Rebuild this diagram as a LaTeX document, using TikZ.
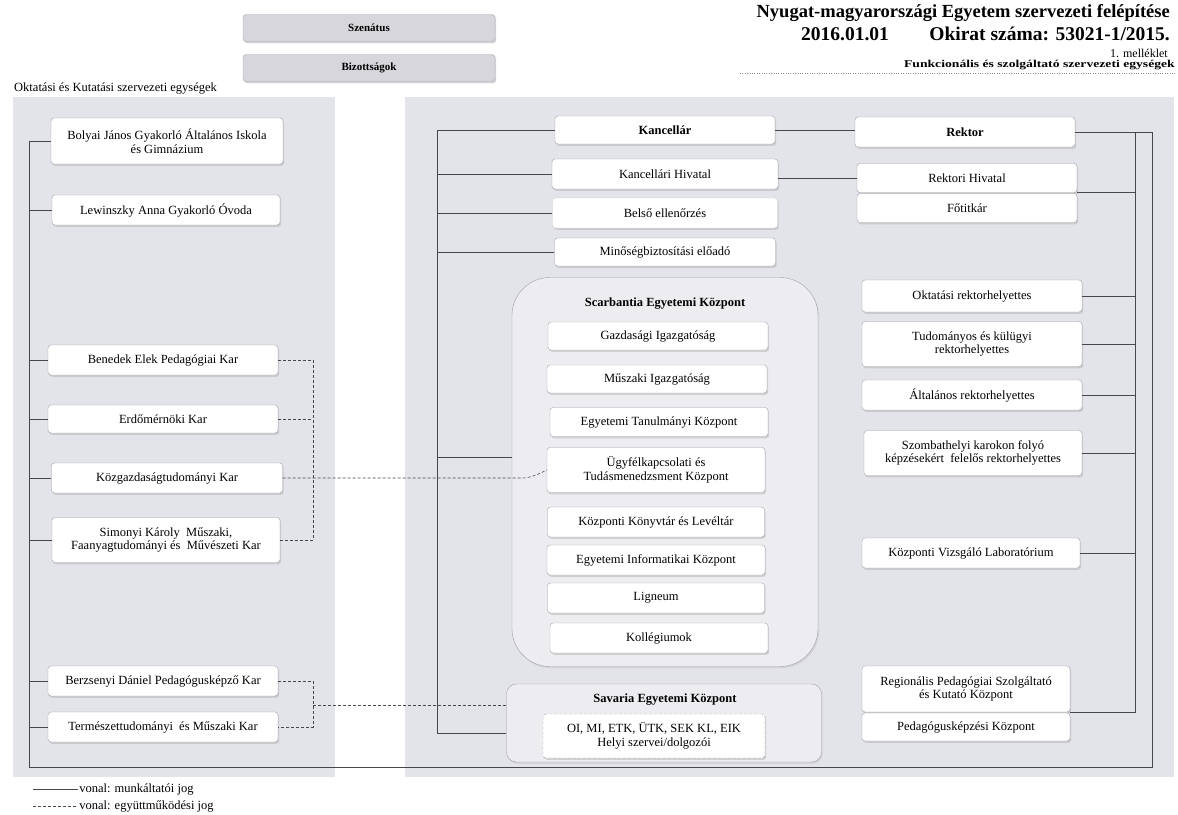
\documentclass[tikz,border=0pt]{standalone}
\usepackage{fontspec}
\setmainfont{Liberation Serif}
\newfontfamily\widefont[FakeStretch=1.3]{Liberation Serif}
\usetikzlibrary{shadows}
\definecolor{panelc}{RGB}{227,228,234}
\definecolor{groupc}{RGB}{237,237,241}
\definecolor{headc}{RGB}{214,214,220}
\definecolor{edgec}{RGB}{160,160,170}
\definecolor{linec}{RGB}{70,70,75}
\begin{document}
\begin{tikzpicture}[x=1pt,y=-1pt,
  every node/.style={inner sep=1pt},
  ubox/.style={draw=edgec, fill=white, rounded corners=3pt, align=center,
    font=\fontsize{12.5}{13.5}\selectfont,
    drop shadow={shadow xshift=1.2pt, shadow yshift=-1.8pt, fill=gray!60}},
  hbox/.style={ubox, fill=headc, font=\bfseries\fontsize{11}{12}\selectfont},
  bbox/.style={ubox, font=\bfseries\fontsize{12.5}{13.5}\selectfont},
  group/.style={draw=edgec, fill=groupc,
    drop shadow={shadow xshift=1.2pt, shadow yshift=-1.8pt, fill=gray!45}},
  gtitle/.style={font=\bfseries\fontsize{12.5}{13.5}\selectfont},
  jog/.style={draw=linec, line width=0.6pt},
  egy/.style={draw=linec, line width=0.6pt, dash pattern=on 3pt off 2pt},
]
\useasboundingbox (0,0) rectangle (1178,814);
\fill[white] (0,0) rectangle (1178,814);

% panels
\fill[panelc] (13,97) rectangle (335,777);
\fill[panelc] (405,97) rectangle (1174,777);

% header
\node[hbox, minimum width=252pt, minimum height=27pt] (szenatus) at (369,28) {Szenátus};
\node[hbox, minimum width=252pt, minimum height=27pt] (bizott) at (369,68) {Bizottságok};
\node[anchor=west, font=\fontsize{12.5}{13}\selectfont] (okttxt) at (13,89) {Oktatási és Kutatási szervezeti egységek};
\node[anchor=east, font=\bfseries\fontsize{18.5}{20}\selectfont] (title) at (1171,13) {Nyugat-magyarországi Egyetem szervezeti felépítése};
\node[font=\bfseries\fontsize{19.5}{20}\selectfont] (date) at (845,34) {2016.01.01};
\node[anchor=east, font=\bfseries\fontsize{19.5}{20}\selectfont] (okirat) at (1171,34) {Okirat száma: 53021-1/2015.};
\node[anchor=east, font=\fontsize{12}{13}\selectfont] (mell) at (1169,53) {1. melléklet};
\node[anchor=east, font=\widefont\bfseries\fontsize{10.5}{11}\selectfont] (funk) at (1176,65) {Funkcionális és szolgáltató szervezeti egységek};
\draw[linec!60, dotted] (740,73) -- (1176,73);

% left units
\node[ubox, minimum width=232pt, minimum height=46pt] (bolyai) at (167,141) {Bolyai János Gyakorló Általános Iskola\\és Gimnázium};
\node[ubox, minimum width=228pt, minimum height=30pt] (lewin) at (166,210) {Lewinszky Anna Gyakorló Óvoda};
\node[ubox, minimum width=230pt, minimum height=30pt] (benedek) at (163,360) {Benedek Elek Pedagógiai Kar};
\node[ubox, minimum width=230pt, minimum height=28pt] (erdo) at (163,419) {Erdőmérnöki Kar};
\node[ubox, minimum width=231pt, minimum height=30pt] (kozg) at (167,478) {Közgazdaságtudományi Kar};
\node[ubox, minimum width=228pt, minimum height=45pt] (simonyi) at (166,540) {Simonyi Károly \ Műszaki,\\Faanyagtudományi és \ Művészeti Kar};
\node[ubox, minimum width=230pt, minimum height=30pt] (berz) at (163,681) {Berzsenyi Dániel Pedagógusképző Kar};
\node[ubox, minimum width=230pt, minimum height=30pt] (term) at (163,727) {Természettudományi \ és Műszaki Kar};

% right panel: chancellor side
\node[bbox, minimum width=220pt, minimum height=28pt] (kanc) at (665,130) {Kancellár};
\node[ubox, minimum width=226pt, minimum height=30pt] (khiv) at (665,174) {Kancellári Hivatal};
\node[ubox, minimum width=225pt, minimum height=30pt, densely dotted] (belso) at (665,213) {Belső ellenőrzés};
\node[ubox, minimum width=221pt, minimum height=28pt] (minos) at (665,252) {Minőségbiztosítási előadó};

\node[group, rounded corners=38pt, minimum width=306pt, minimum height=389pt] (scarb) at (665,472) {};
\node[gtitle] (scarbt) at (665,304) {Scarbantia Egyetemi Központ};
\node[ubox, minimum width=220pt, minimum height=28pt] (gazd) at (658,336) {Gazdasági Igazgatóság};
\node[ubox, minimum width=220pt, minimum height=28pt] (musz) at (657,379) {Műszaki Igazgatóság};
\node[ubox, minimum width=218pt, minimum height=29pt] (etk) at (659,422) {Egyetemi Tanulmányi Központ};
\node[ubox, minimum width=218pt, minimum height=45pt] (ugyf) at (656,470) {Ügyfélkapcsolati és\\Tudásmenedzsment Központ};
\node[ubox, minimum width=217pt, minimum height=30pt] (kkl) at (656,522) {Központi Könyvtár és Levéltár};
\node[ubox, minimum width=218pt, minimum height=30pt] (eik) at (656,560) {Egyetemi Informatikai Központ};
\node[ubox, minimum width=217pt, minimum height=30pt] (lign) at (656,598) {Ligneum};
\node[ubox, minimum width=218pt, minimum height=30pt] (koll) at (659,638) {Kollégiumok};

\node[group, rounded corners=10pt, minimum width=315pt, minimum height=78pt] (savaria) at (664,723) {};
\node[gtitle] (savt) at (665,700) {Savaria Egyetemi Központ};
\node[ubox, minimum width=222pt, minimum height=44pt, densely dashed] (savin) at (654,736) {OI, MI, ETK, ÜTK, SEK KL, EIK\\Helyi szervei/dolgozói};

% right panel: rector side
\node[bbox, minimum width=220pt, minimum height=30pt] (rektor) at (965,132) {Rektor};
\node[ubox, minimum width=220pt, minimum height=29pt] (rhiv) at (967,178) {Rektori Hivatal};
\node[ubox, minimum width=220pt, minimum height=29pt] (fotit) at (967,208) {Főtitkár};
\node[ubox, minimum width=220pt, minimum height=32pt] (orh) at (972,296) {Oktatási rektorhelyettes};
\node[ubox, minimum width=220pt, minimum height=45pt] (tud) at (972,344) {Tudományos és külügyi\\rektorhelyettes};
\node[ubox, minimum width=220pt, minimum height=30pt] (alt) at (972,395) {Általános rektorhelyettes};
\node[ubox, minimum width=218pt, minimum height=45pt] (szomb) at (973,453) {Szombathelyi karokon folyó\\képzésekért \ felelős rektorhelyettes};
\node[ubox, minimum width=218pt, minimum height=30pt] (kvl) at (971,553) {Központi Vizsgáló Laboratórium};
\node[ubox, minimum width=208pt, minimum height=46pt] (regio) at (966,689) {Regionális Pedagógiai Szolgáltató\\és Kutató Központ};
\node[ubox, minimum width=208pt, minimum height=28pt] (ped) at (966,727) {Pedagógusképzési Központ};

% ---------- connectors: munkáltatói jog (solid) ----------
\coordinate (lx) at (29,0);
\coordinate (rx) at (1152,0);
\coordinate (by) at (0,767);
\draw[jog] (rektor.east) -| (rx |- by) -| (lx |- bolyai.west) -- (bolyai.west);
\foreach \n in {lewin,benedek,erdo,kozg,simonyi,berz,term}
  \draw[jog] (\n.west) -- (lx |- \n.west);

\coordinate (kx) at (437,0);
\path (savaria.west) ++(0,10) coordinate (savl);
\draw[jog] (kanc.west) -- (kx |- kanc.west) |- (savl);
\foreach \n in {khiv,belso,minos}
  \draw[jog] (\n.west) -- (kx |- \n.west);
\path (scarb.west) ++(0,-15) coordinate (scl);
\draw[jog] (scl) -- (kx |- scl);

\draw[jog] (kanc.east) -- (rektor.west |- kanc.east);
\draw[jog] (rhiv.west) -- (khiv.east |- rhiv.west);

\coordinate (ix) at (1135,0);
\draw[jog] (ix |- rektor.east) |- (regio.south east);
\draw[jog] (rhiv.south east) -- (ix |- rhiv.south east);
\foreach \n in {orh,tud,alt,szomb,kvl}
  \draw[jog] (\n.east) -- (ix |- \n.east);

% ---------- connectors: együttműködési jog (dashed) ----------
\coordinate (dx) at (313,0);
\draw[egy] (benedek.east) -| (dx |- simonyi.east) -- (simonyi.east);
\draw[egy] (erdo.east) -- (dx |- erdo.east);
\draw[egy] (kozg.east) -- ++(240,0) .. controls +(8,0) and +(-6,3) .. (ugyf.west);
\draw[egy] (berz.east) -| (dx |- term.east) -- (term.east);
\path (dx |- savaria.west) ++(0,-18) coordinate (bt);
\draw[egy] (bt) -- (savaria.west |- bt);

% legend
\coordinate (lg1) at (33,789);
\coordinate (lg2) at (33,806);
\draw[jog] (lg1) -- ++(45,0) node[anchor=west, font=\fontsize{12.5}{13}\selectfont] (lgt1) {vonal: munkáltatói jog};
\draw[egy] (lg2) -- ++(45,0) node[anchor=west, font=\fontsize{12.5}{13}\selectfont] (lgt2) {vonal: együttműködési jog};
\end{tikzpicture}
\end{document}
